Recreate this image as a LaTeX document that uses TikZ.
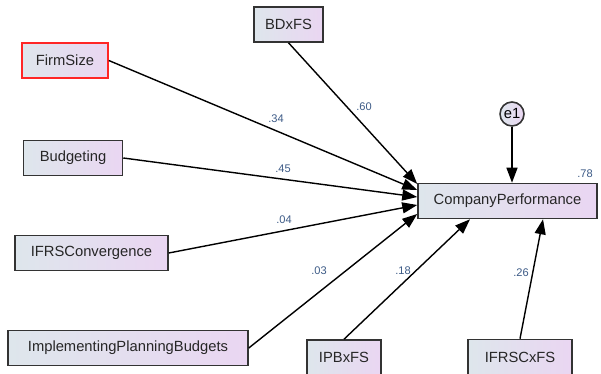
\documentclass[tikz,border=0pt]{standalone}
\usepackage{fontspec}
\setmainfont{Liberation Sans}
\usetikzlibrary{arrows.meta}
\definecolor{boxleft}{HTML}{DEE6EC}
\definecolor{boxright}{HTML}{EAD6F2}
\definecolor{lblblue}{HTML}{3C5A86}
\tikzset{
  var/.style={draw=black!80, line width=0.9pt, left color=boxleft, right color=boxright,
    minimum height=0.7cm, inner sep=2pt, font=\fontsize{8.4}{10}\selectfont, text=black!85},
  errvar/.style={draw=black!80, line width=0.9pt, circle, minimum size=0.48cm, inner sep=0pt,
    left color=boxleft, right color=boxright, font=\fontsize{8.4}{10}\selectfont},
  lbl/.style={font=\fontsize{6.3}{7}\selectfont, text=lblblue, inner sep=0pt},
  path/.style={line width=0.8pt, -{Triangle[length=0.3cm,width=0.22cm]}}
}
\begin{document}
\begin{tikzpicture}[x=0.02cm,y=-0.02cm]
  \useasboundingbox (0,0) rectangle (601,374);
  % variables
  \node [var, draw=red!85, minimum width=1.72cm] (firmsize) at (65,60.5) {FirmSize};
  \node [var, minimum width=1.38cm] (bdxfs) at (288.5,24.5) {BDxFS};
  \node [var, minimum width=1.98cm] (budgeting) at (73,158) {Budgeting};
  \node [var, minimum width=3.06cm] (ifrsconv) at (91.5,253) {IFRSConvergence};
  \node [var, minimum width=4.8cm] (ipb) at (128,348) {ImplementingPlanningBudgets};
  \node [var, minimum width=1.48cm] (ipbxfs) at (344,357.5) {IPBxFS};
  \node [var, minimum width=2.08cm] (ifrscxfs) at (520,357) {IFRSCxFS};
  \node [var, minimum width=3.58cm] (cp) at (507.5,201) {CompanyPerformance};
  \node [errvar] (e1) at (512,114) {e1};
  % paths
  \draw [path] (firmsize.east) -- ([yshift=0.22cm]cp.west);
  \draw [path] (bdxfs.south) -- ([yshift=0.34cm]cp.west);
  \draw [path] (budgeting.east) -- ([yshift=0.08cm]cp.west);
  \draw [path] (ifrsconv.east) -- ([yshift=-0.08cm]cp.west);
  \draw [path] (ipb.east) -- ([yshift=-0.26cm]cp.west);
  \draw [path] (ipbxfs.north) -- ([xshift=-0.75cm]cp.south);
  \draw [path] (ifrscxfs.north) -- ([xshift=0.71cm]cp.south);
  \draw [path] (e1.south) -- (e1 |- cp.north);
  % estimates
  \node [lbl] (w34) at (276,119) {.34};
  \node [lbl] (w60) at (364,107) {.60};
  \node [lbl] (w45) at (283,169) {.45};
  \node [lbl] (w04) at (284,220) {.04};
  \node [lbl] (w03) at (319,271) {.03};
  \node [lbl] (w18) at (403,271) {.18};
  \node [lbl] (w26) at (521,273) {.26};
  \node [lbl] (r78) at (585,174) {.78};
\end{tikzpicture}
\end{document}
